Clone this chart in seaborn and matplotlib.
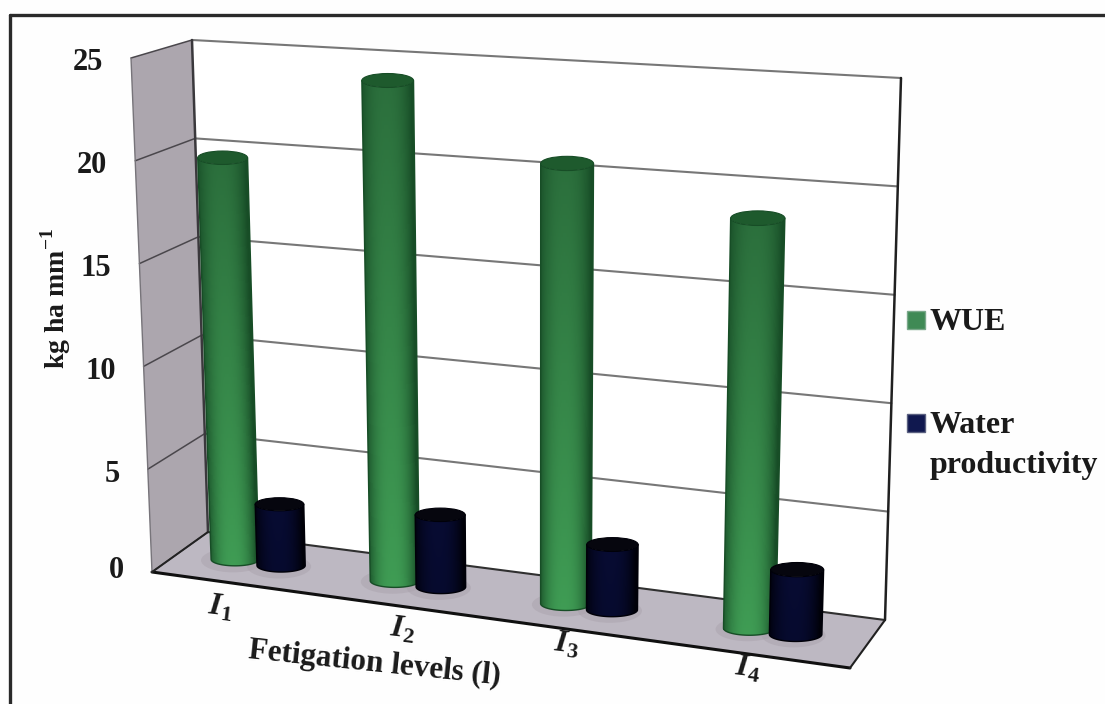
import numpy as np
import pandas as pd
import matplotlib
matplotlib.use("Agg")
import matplotlib.pyplot as plt
from matplotlib.patches import Polygon, Ellipse, Rectangle
import seaborn as sns

# Water use figures per fertigation level
levels = ["I1", "I2", "I3", "I4"]
level_labels = [r"$\mathbfit{I}_{\mathbf{1}}$", r"$\mathbfit{I}_{\mathbf{2}}$",
                r"$\mathbfit{I}_{\mathbf{3}}$", r"$\mathbfit{I}_{\mathbf{4}}$"]
wue = [19.8, 24.1, 20.7, 18.8]
water_productivity = [3.0, 3.45, 3.05, 2.95]
value_ticks = [0, 5, 10, 15, 20, 25]
VMAX = 25

sns.set_theme(style="white")
plt.rcParams["font.family"] = ["Liberation Serif", "DejaVu Serif"]
plt.rcParams["mathtext.fontset"] = "custom"
plt.rcParams["mathtext.bf"] = "Liberation Serif:bold"
plt.rcParams["mathtext.bfit"] = "Liberation Serif:italic:bold"
plt.rcParams["mathtext.rm"] = "Liberation Serif:bold"

data = pd.DataFrame({"level": levels, "WUE": wue, "Water productivity": water_productivity})

# Corners of the chart box on the canvas
BOX = {
    "front_left_bottom": (152, 572), "front_left_top": (131, 58),
    "back_left_bottom": (208, 532), "back_left_top": (192, 40),
    "front_right_bottom": (850, 668), "front_right_top": (868, 102),
    "back_right_bottom": (885, 620), "back_right_top": (901, 78),
}
FORESHORTEN = 0.87
DEPTH_MID = 0.5
GREEN_OFFSET = 0.0305
NAVY_OFFSET = 0.0365
BAR_RADIUS = 0.0345
ELLIPSE_RATIO = 0.27
TEXT_COLOR = "#1a1a1a"
LABEL_NUDGE = [(-9, 25), (11, 25), (1, 16), (-4, 14)]


def across(position):
    """Perspective foreshortening of the category axis."""
    return FORESHORTEN * position / (1 + (FORESHORTEN - 1) * position)


def project(u, d, v):
    """Map across (0-1), depth (0 front, 1 back) and value onto the canvas."""
    t = v / VMAX
    out = 0
    for side, su in (("left", 1 - u), ("right", u)):
        for depth, sd in (("front", 1 - d), ("back", d)):
            b = np.array(BOX[f"{depth}_{side}_bottom"], float)
            a = np.array(BOX[f"{depth}_{side}_top"], float)
            out = out + su * sd * (b * (1 - t) + a * t)
    return out


def cylinder(ax, u, value, edge_col, mid_cols, cap_col, z):
    """Shaded cylinder standing at across-position u and reaching the given value."""
    r = BAR_RADIUS * (1 + 0.12 * u)
    left0, right0 = project(u - r, DEPTH_MID, 0), project(u + r, DEPTH_MID, 0)
    left1, right1 = project(u - r, DEPTH_MID, value), project(u + r, DEPTH_MID, value)
    rx0, rx1 = (right0[0] - left0[0]) / 2, (right1[0] - left1[0]) / 2
    c0, c1 = (left0 + right0) / 2, (left1 + right1) / 2
    ry0, ry1 = rx0 * ELLIPSE_RATIO, rx1 * ELLIPSE_RATIO

    s = np.linspace(-1, 1, 101)
    h = np.linspace(0, 1, 120)
    S, H = np.meshgrid(s, h)
    X = (c0[0] + S * rx0) * (1 - H) + (c1[0] + S * rx1) * H
    Y = (c0[1] + np.sqrt(1 - S**2) * ry0) * (1 - H) + (c1[1] + np.sqrt(1 - S**2) * ry1) * H

    sc = 0.5 * (s[:-1] + s[1:])
    hc = 0.5 * (h[:-1] + h[1:])
    # Shading: darker at both rims, lit a little left of centre, fading upward
    rim = np.clip(1 - np.abs(sc + 0.08) ** 2.4, 0, 1)[None, :, None]
    bright = np.array(mid_cols[0])[None, None, :] * (1 - hc)[:, None, None] + \
        np.array(mid_cols[1])[None, None, :] * hc[:, None, None]
    dark = np.array(edge_col)[None, None, :]
    rgb = dark * (1 - rim) + bright * rim
    ax.pcolormesh(X, Y, rgb, shading="flat", antialiased=False, linewidth=0, zorder=z)

    # Soft outline hides the stepped mesh boundary
    t = np.linspace(0, np.pi, 40)
    outline = np.vstack([
        np.column_stack([c1[0] - rx1 * np.ones(2), [c1[1], c1[1]]])[:1],
        np.column_stack([c0[0] - rx0 * np.cos(t), c0[1] + ry0 * np.sin(t)]),
        [[c1[0] + rx1, c1[1]]],
    ])
    ax.plot(outline[:, 0], outline[:, 1], color=edge_col, lw=1.0, zorder=z + 0.05)
    ax.add_patch(Ellipse(c1, 2 * rx1, 2 * ry1, facecolor=cap_col, edgecolor=edge_col, lw=0.8, zorder=z + 0.1))


fig = plt.figure(figsize=(11.05, 7.04), dpi=100, facecolor="#fefefe")
ax = fig.add_axes([0, 0, 1, 1])
ax.set_xlim(0, 1105)
ax.set_ylim(704, 0)
ax.axis("off")

# Panels of the box: back wall, left wall and floor
ax.add_patch(Polygon([project(0, 1, 0), project(1, 1, 0), project(1, 1, VMAX), project(0, 1, VMAX)],
                     facecolor="white", edgecolor="none", zorder=1))
ax.add_patch(Polygon([project(0, 0, 0), project(0, 1, 0), project(0, 1, VMAX), project(0, 0, VMAX)],
                     facecolor="#aca6ae", edgecolor="none", zorder=1))
ax.add_patch(Polygon([project(0, 0, 0), project(1, 0, 0), project(1, 1, 0), project(0, 1, 0)],
                     facecolor="#bdb8c2", edgecolor="none", zorder=1))

# Gridlines across both walls
for tick in value_ticks:
    pts = np.array([project(0, 0, tick), project(0, 1, tick), project(1, 1, tick)])
    ax.plot(pts[:2, 0], pts[:2, 1], color="#4a474c", lw=1.1, zorder=2)
    ax.plot(pts[1:, 0], pts[1:, 1], color="#777777" if tick else "#303030", lw=1.5, zorder=2)

# Box edges
for a, b, col, lw in [
    (project(0, 0, 0), project(1, 0, 0), "#101010", 2.2),
    (project(0, 1, 0), project(0, 1, VMAX), "#3a383c", 1.8),
    (project(1, 1, 0), project(1, 1, VMAX), "#202020", 1.8),
    (project(1, 0, 0), project(1, 1, 0), "#202020", 1.5),
    (project(0, 0, 0), project(0, 0, VMAX), "#77747a", 1.0),
    (project(0, 0, 0), project(0, 1, 0), "#222222", 1.4),
]:
    ax.plot([a[0], b[0]], [a[1], b[1]], color=col, lw=lw, zorder=2.5)

green_shades = sns.blend_palette(["#3f9c54", "#2b6f3c"], 2)
green_edge = (0.09, 0.30, 0.15)
navy_shades = sns.blend_palette(["#060a2e", "#070b32"], 2)
navy_edge = (0.0, 0.0, 0.03)

n = len(levels)
for i, row in data.iterrows():
    centre = across((i + 0.5) / n)
    for u in (centre - GREEN_OFFSET, centre + NAVY_OFFSET):
        base = project(u, DEPTH_MID, 0)
        ax.add_patch(Ellipse(base + np.array([-2, 1]), 64, 24, facecolor="#a8a0aa", alpha=0.45,
                             edgecolor="none", zorder=3))
    cylinder(ax, centre - GREEN_OFFSET, row["WUE"], green_edge, green_shades, "#1e5a2d", 4 + i)
    cylinder(ax, centre + NAVY_OFFSET, row["Water productivity"], navy_edge, navy_shades, "#06060e", 4.5 + i)

# Value labels beside the front edge of the left wall
for tick in value_ticks:
    p = project(0, 0, tick)
    ax.text(p[0] - 28, p[1] + (5 if tick else -1), str(tick), ha="right", va="center", fontsize=22,
            fontweight="bold", color=TEXT_COLOR, zorder=10)

# Level labels below the front edge of the floor
for i, lab in enumerate(level_labels):
    p = project(across((i + 0.5) / n), 0, 0)
    ax.text(p[0] + LABEL_NUDGE[i][0], p[1] + LABEL_NUDGE[i][1], lab, ha="center", va="center",
            fontsize=23, rotation=-7, color=TEXT_COLOR, zorder=10)

ax.text(56, 299, r"kg ha mm$^{\mathbf{-1}}$", rotation=90, ha="center", va="center",
        fontsize=20, fontweight="bold", color=TEXT_COLOR)
ax.text(375, 664, "Fetigation levels (l)", rotation=-6, ha="center", va="center",
        fontsize=22.5, fontweight="bold", color=TEXT_COLOR, rotation_mode="anchor")

# Legend to the right of the box
legend_rows = [("WUE", "#3f8a55", "#7aa88a", 320), ("Water\nproductivity", "#10184f", "#5a6080", 423)]
for label, face, edge, y in legend_rows:
    ax.add_patch(Rectangle((907, y - 9), 18, 18, facecolor=face, edgecolor=edge, lw=1.0, zorder=10))
    ax.text(930, y - 12, label, ha="left", va="top", fontsize=23, fontweight="bold",
            color=TEXT_COLOR, linespacing=1.5, zorder=10)

# Outer frame
ax.plot([10, 10], [704, 15], color="#2a2a2a", lw=2.4, zorder=12)
ax.plot([10, 1105], [15, 15], color="#2a2a2a", lw=2.4, zorder=12)

fig.savefig("out.png", dpi=100, facecolor=fig.get_facecolor())
